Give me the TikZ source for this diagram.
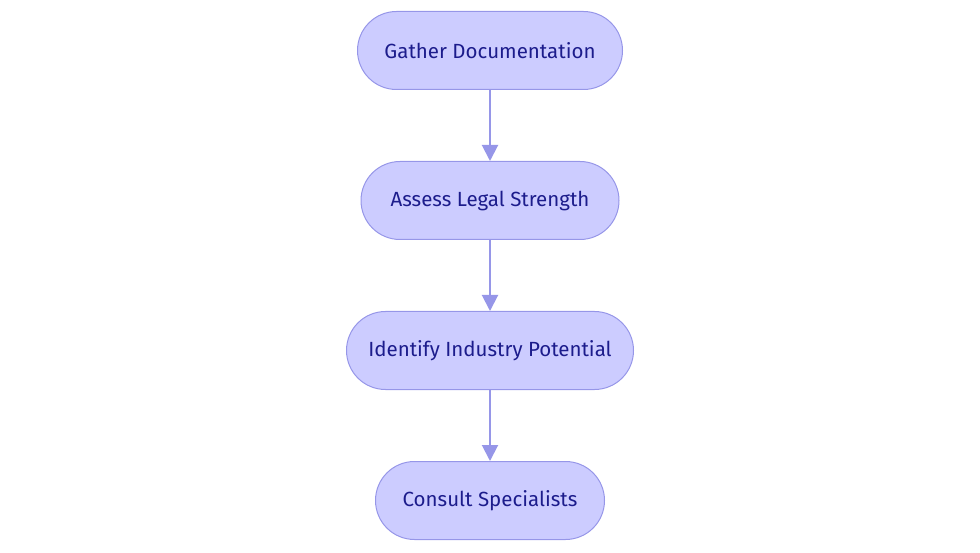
\documentclass[tikz,border=0pt]{standalone}
\usepackage{fontspec}
\setmainfont{Fira Sans}
\usetikzlibrary{arrows.meta,positioning}

\definecolor{stepfill}{RGB}{204,204,255}
\definecolor{stepline}{RGB}{150,150,232}
\definecolor{steptext}{RGB}{28,28,140}

\begin{document}
\begin{tikzpicture}[
  x=1pt, y=-1pt,
  stepbox/.style={draw=stepline, fill=stepfill, line width=1pt, rounded corners=39pt, align=center, minimum height=78pt, inner xsep=0pt, text=steptext, font=\fontsize{20.5}{24}\selectfont},
  arr/.style={-{Triangle[length=16pt,width=16pt]}, line width=2pt, draw=stepline, fill=stepline},
  node distance=71pt
]
\useasboundingbox (0,0) rectangle (980,553);

\node[stepbox, minimum width=265pt] (gather) at (490,50.5) {Gather Documentation};
\node[stepbox, minimum width=258pt, below=of gather] (assess) {Assess Legal Strength};
\node[stepbox, minimum width=287pt, below=of assess] (identify) {Identify Industry Potential};
\node[stepbox, minimum width=229pt, below=of identify] (consult) {Consult Specialists};

\draw[arr] (gather) -- (assess);
\draw[arr] (assess) -- (identify);
\draw[arr] (identify) -- (consult);

\end{tikzpicture}
\end{document}
